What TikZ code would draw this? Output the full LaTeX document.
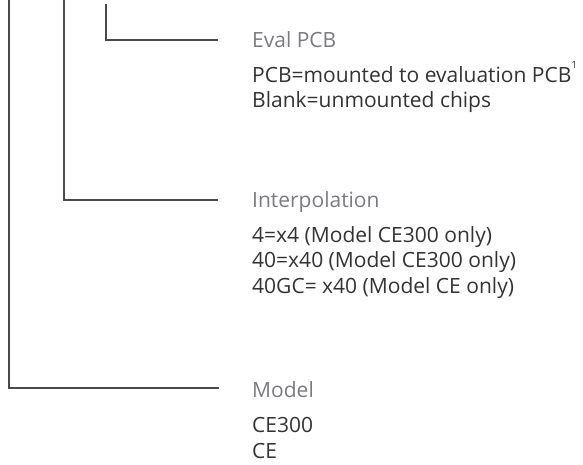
\documentclass[tikz,border=0pt]{standalone}
\usepackage{fontspec}
\setmainfont{Open Sans}
\definecolor{linegray}{HTML}{4A4A4A}
\definecolor{headgray}{HTML}{7A7A80}
\definecolor{bodygray}{HTML}{333333}
\newcommand{\fsz}{\fontsize{21}{25}\selectfont}
\newcommand{\supone}{\raisebox{0.62em}{\fontsize{10}{11}\selectfont 1}}
\begin{document}
\begin{tikzpicture}[x=1pt,y=-1pt,
  conn/.style={draw=linegray,line width=1.1pt},
  head/.style={anchor=base west,inner sep=0pt,text=headgray,font=\fsz},
  body/.style={anchor=base west,inner sep=0pt,text=bodygray,font=\fsz}]
\useasboundingbox (0,0) rectangle (583,464);
% connectors
\coordinate (m0) at (9,0);
\coordinate (m1) at (219,388);
\coordinate (i0) at (64,0);
\coordinate (i1) at (218,200);
\coordinate (e0) at (106,4);
\coordinate (e1) at (218,40);
\draw[conn] (e0) |- (e1);
\draw[conn] (i0) |- (i1);
\draw[conn] (m0) |- (m1);
% Eval PCB
\node[head] (evh) at (252,47) {Eval PCB};
\node[body] (ev1) at (252,82) {PCB=mounted to evaluation PCB\supone};
\node[body] (ev2) at (252,107) {Blank=unmounted chips};
% Interpolation
\node[head] (inh) at (252,207) {Interpolation};
\node[body] (in1) at (252,242) {4=x4 (Model CE300 only)};
\node[body] (in2) at (252,267.5) {40=x40 (Model CE300 only)};
\node[body] (in3) at (252,293) {40GC= x40 (Model CE only)};
% Model
\node[head] (moh) at (252,397) {Model};
\node[body] (mo1) at (252,432) {CE300};
\node[body] (mo2) at (252,458) {CE};
\end{tikzpicture}
\end{document}
